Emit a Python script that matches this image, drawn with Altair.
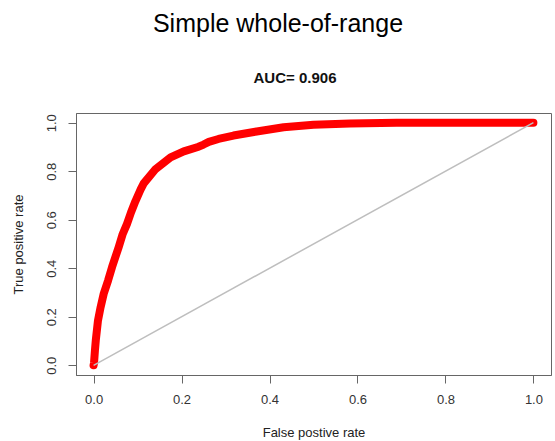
import altair as alt
import pandas as pd

# ROC curve points
fpr = [0.0, 0.001, 0.003, 0.005, 0.010, 0.016, 0.023, 0.033, 0.042, 0.057, 0.066,
       0.076, 0.085, 0.095, 0.107, 0.114, 0.141, 0.175, 0.205, 0.239, 0.250,
       0.262, 0.284, 0.318, 0.371, 0.432, 0.500, 0.583, 0.689, 0.800, 0.900, 1.0]
tpr = [0.0, 0.010, 0.060, 0.103, 0.185, 0.240, 0.295, 0.350, 0.405, 0.487, 0.540,
       0.583, 0.630, 0.676, 0.725, 0.750, 0.809, 0.857, 0.882, 0.901, 0.910,
       0.921, 0.933, 0.947, 0.964, 0.981, 0.992, 0.997, 1.0, 1.0, 1.0, 1.0]

diag_x = [0.0, 1.0]
diag_y = [0.0, 1.0]

tick_values = [0.0, 0.2, 0.4, 0.6, 0.8, 1.0]
main_title = "Simple whole-of-range"
auc_text = "AUC= 0.906"
x_title = "False postive rate"
y_title = "True positive rate"

FONT = "Liberation Sans"

roc = pd.DataFrame({"fpr": fpr, "tpr": tpr, "i": list(range(len(fpr)))})
diag = pd.DataFrame({"fpr": diag_x, "tpr": diag_y, "i": [0, 1]})

xscale = alt.Scale(domain=[-0.04, 1.04], nice=False, zero=False)
yscale = alt.Scale(domain=[-0.04, 1.04], nice=False, zero=False)

xaxis = alt.Axis(
    values=tick_values, format=".1f", title=x_title, grid=False,
    tickSize=8, tickColor="#666", domainColor="#666",
    labelFont=FONT, labelFontSize=13, labelColor="#333", labelPadding=10,
    titleFont=FONT, titleFontSize=13, titleFontWeight="normal", titleColor="#222",
    titleY=57, titleBaseline="middle",
)
yaxis = alt.Axis(
    values=tick_values, format=".1f", title=y_title, grid=False,
    tickSize=8, tickColor="#666", domainColor="#666",
    labelFont=FONT, labelFontSize=13, labelColor="#333", labelPadding=10,
    labelAngle=270, labelAlign="center", labelBaseline="bottom",
    titleFont=FONT, titleFontSize=13, titleFontWeight="normal", titleColor="#222",
    titleAngle=270, titleX=-58, titleY=131, titleAlign="center", titleBaseline="middle",
)

curve = alt.Chart(roc).mark_line(
    color="#FF0000", strokeWidth=8, strokeCap="round", strokeJoin="round"
).encode(
    x=alt.X("fpr:Q", scale=xscale, axis=xaxis),
    y=alt.Y("tpr:Q", scale=yscale, axis=yaxis),
    order="i:Q",
)

diagonal = alt.Chart(diag).mark_line(color="#BEBEBE", strokeWidth=1.5).encode(
    x=alt.X("fpr:Q", scale=xscale),
    y=alt.Y("tpr:Q", scale=yscale),
    order="i:Q",
)

title_mark = alt.Chart(pd.DataFrame({"t": [main_title]})).mark_text(
    font=FONT, fontSize=25, color="#000", align="center", baseline="alphabetic"
).encode(text="t:N", x=alt.value(202), y=alt.value(-81))

auc_mark = alt.Chart(pd.DataFrame({"t": [auc_text]})).mark_text(
    font=FONT, fontSize=15, fontWeight="bold", color="#111", align="center", baseline="alphabetic"
).encode(text="t:N", x=alt.value(219), y=alt.value(-30))

chart = alt.layer(curve, diagonal, title_mark, auc_mark).properties(
    width=475, height=262,
    autosize=alt.AutoSizeParams(type="none"),
    padding={"left": 76, "top": 113, "right": 4, "bottom": 66},
).configure_view(stroke="#666", strokeWidth=1)

chart.save("out.html", embed_options={"renderer": "svg", "actions": False})
